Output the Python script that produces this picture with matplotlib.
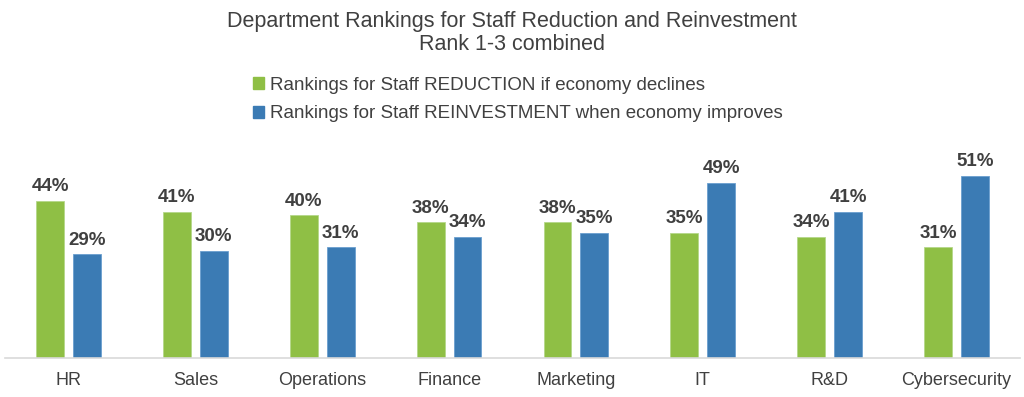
import matplotlib
matplotlib.use('Agg')
import matplotlib.pyplot as plt
import numpy as np
from matplotlib.patches import Patch

plt.rcParams['font.family'] = ['Liberation Sans', 'DejaVu Sans']

departments = ['HR', 'Sales', 'Operations', 'Finance', 'Marketing', 'IT', 'R&D', 'Cybersecurity']
reduction = [44, 41, 40, 38, 38, 35, 34, 31]
reinvestment = [29, 30, 31, 34, 35, 49, 41, 51]

green = '#8fbf45'
blue = '#3b7bb4'
text_color = '#404040'

fig = plt.figure(figsize=(10.24, 3.97), dpi=100)
ax = fig.add_axes([0.005, 0.098, 0.991, 0.54])

x = np.arange(len(departments))
w = 0.22
off = 0.145
b1 = ax.bar(x - off, reduction, w, color=green, edgecolor='#b5d88a', linewidth=0.6)
b2 = ax.bar(x + off, reinvestment, w, color=blue, edgecolor='#6a9fcf', linewidth=0.6)

for bars, vals in ((b1, reduction), (b2, reinvestment)):
    for bar, v in zip(bars, vals):
        ax.annotate(f'{v}%', (bar.get_x() + bar.get_width() / 2, v),
                    xytext=(0, 4), textcoords='offset points',
                    ha='center', va='bottom', fontsize=13.5, fontweight='bold',
                    color=text_color)

ax.set_xlim(-0.5, len(departments) - 0.5)
ax.set_ylim(0, 60)
ax.set_xticks(x)
ax.set_xticklabels(departments, fontsize=13, color=text_color)
ax.tick_params(axis='x', length=0, pad=10)
ax.set_yticks([])
for s in ['top', 'left', 'right']:
    ax.spines[s].set_visible(False)
ax.spines['bottom'].set_color('#d9d9d9')
ax.spines['bottom'].set_linewidth(1.2)

fig.text(0.5, 0.945, 'Department Rankings for Staff Reduction and Reinvestment',
         ha='center', va='center', fontsize=15.5, color=text_color)
fig.text(0.5, 0.887, 'Rank 1-3 combined', ha='center', va='center',
         fontsize=15.5, color=text_color)

handles = [Patch(color=green, label='Rankings for Staff REDUCTION if economy declines'),
           Patch(color=blue, label='Rankings for Staff REINVESTMENT when economy improves')]
leg = fig.legend(handles=handles, loc='upper left', bbox_to_anchor=(0.238, 0.83),
                 frameon=False, fontsize=13.5, handlelength=0.6, handleheight=0.6,
                 handletextpad=0.3, labelspacing=0.62, borderpad=0)
for t in leg.get_texts():
    t.set_color(text_color)

fig.savefig('out.png', dpi=100)
